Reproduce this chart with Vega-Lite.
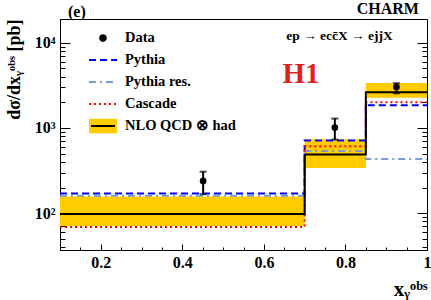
{
  "$schema": "https://vega.github.io/schema/vega-lite/v6.json",
  "width": 367,
  "height": 231,
  "autosize": {"type": "none"},
  "padding": {"left": 60, "top": 19, "right": 4, "bottom": 50},
  "background": "white",
  "config": {
    "view": {"stroke": "black", "strokeWidth": 1},
    "font": "Liberation Serif",
    "axis": {"grid": false, "domainColor": "black", "tickColor": "black", "tickWidth": 1, "labelColor": "black", "titleColor": "black"}
  },
  "datasets": {
    "band": [
      {"bin": 1, "x0": 0.1, "x1": 0.7, "lo": 71, "hi": 157},
      {"bin": 2, "x0": 0.7, "x1": 0.85, "lo": 340, "hi": 737},
      {"bin": 3, "x0": 0.85, "x1": 1.0, "lo": 2270, "hi": 3370}
    ],
    "models": [
      {"series": "Pythia", "bin": 1, "x0": 0.1, "x1": 0.7, "v": 170},
      {"series": "Pythia", "bin": 2, "x0": 0.7, "x1": 0.85, "v": 711},
      {"series": "Pythia", "bin": 3, "x0": 0.85, "x1": 1.0, "v": 1845},
      {"series": "Pythia res.", "bin": 1, "x0": 0.1, "x1": 0.7, "v": 160},
      {"series": "Pythia res.", "bin": 2, "x0": 0.7, "x1": 0.85, "v": 537},
      {"series": "Pythia res.", "bin": 3, "x0": 0.85, "x1": 1.0, "v": 433},
      {"series": "Cascade", "bin": 1, "x0": 0.1, "x1": 0.7, "v": 69},
      {"series": "Cascade", "bin": 2, "x0": 0.7, "x1": 0.85, "v": 610},
      {"series": "Cascade", "bin": 3, "x0": 0.85, "x1": 1.0, "v": 2000},
      {"series": "NLO QCD ⊗ had", "bin": 1, "x0": 0.1, "x1": 0.7, "v": 98},
      {"series": "NLO QCD ⊗ had", "bin": 2, "x0": 0.7, "x1": 0.85, "v": 488},
      {"series": "NLO QCD ⊗ had", "bin": 3, "x0": 0.85, "x1": 1.0, "v": 2621}
    ],
    "points": [
      {"series": "Data", "x": 0.451, "y": 239, "lo": 167, "hi": 307},
      {"series": "Data", "x": 0.774, "y": 1010, "lo": 731, "hi": 1290},
      {"series": "Data", "x": 0.925, "y": 3020, "lo": 2550, "hi": 3350}
    ]
  },
  "resolve": {"axis": {"x": "independent", "y": "independent"}},
  "layer": [
    {
      "data": {"name": "band"},
      "mark": {"type": "rect", "fill": "#ffcc00"},
      "encoding": {
        "x": {
          "field": "x0", "type": "quantitative",
          "scale": {"domain": [0.1, 1.0], "nice": false, "zero": false},
          "axis": {
            "orient": "bottom",
            "values": [0.2, 0.4, 0.6, 0.8, 1.0],
            "tickSize": -6,
            "labelExpr": "datum.value > 0.99 ? '1' : format(datum.value, '.1f')",
            "labelPadding": 10,
            "labelFont": "Liberation Serif", "labelFontSize": 16, "labelFontWeight": "bold",
            "labelOverlap": false, "labelFlush": false, "labelBound": false,
            "title": "xᵧᵒᵇˢ",
            "titleFont": "Liberation Serif", "titleFontSize": 21, "titleFontWeight": "bold",
            "titleX": 367, "titleY": 45, "titleAlign": "right", "titleBaseline": "alphabetic", "titleAnchor": "end"
          }
        },
        "x2": {"field": "x1"},
        "y": {
          "field": "lo", "type": "quantitative",
          "scale": {"type": "log", "domain": [37, 19000], "nice": false, "zero": false},
          "axis": {
            "orient": "left",
            "values": [100, 1000, 10000],
            "tickSize": -10,
            "labelExpr": "datum.value == 100 ? '10²' : datum.value == 1000 ? '10³' : '10⁴'",
            "labelPadding": 15,
            "labelFont": "Liberation Serif", "labelFontSize": 16, "labelFontWeight": "bold",
            "labelOverlap": false, "labelFlush": false, "labelBound": false,
            "title": "dσ/dxᵧᵒᵇˢ [pb]",
            "titleFont": "Liberation Serif", "titleFontSize": 18, "titleFontWeight": "bold",
            "titleX": -41, "titleY": 0, "titleAngle": -90, "titleAlign": "right", "titleBaseline": "alphabetic"
          }
        },
        "y2": {"field": "hi"}
      }
    },
    {
      "data": {"name": "models"},
      "transform": [
        {"filter": "datum.series !== 'NLO QCD ⊗ had'"},
        {"fold": ["x0", "x1"], "as": ["edge_key", "edge"]}
      ],
      "mark": {"type": "line", "strokeWidth": 2, "strokeCap": "butt"},
      "encoding": {
        "x": {
          "field": "edge", "type": "quantitative",
          "axis": {
            "orient": "bottom",
            "values": [0.15, 0.25, 0.3, 0.35, 0.45, 0.5, 0.55, 0.65, 0.7, 0.75, 0.85, 0.9, 0.95],
            "tickSize": -3, "labels": false, "domain": false, "title": null
          }
        },
        "y": {
          "field": "v", "type": "quantitative",
          "axis": {
            "orient": "right",
            "values": [100, 1000, 10000],
            "tickSize": -10, "labels": false, "title": null, "domain": false
          }
        },
        "order": [{"field": "edge", "type": "quantitative"}, {"field": "bin", "type": "quantitative"}],
        "color": {
          "field": "series", "type": "nominal",
          "scale": {"domain": ["Data", "Pythia", "Pythia res.", "Cascade", "NLO QCD ⊗ had"], "range": ["#000000", "#0000ff", "#7b9bd6", "#ff0000", "#ffcc00"]},
          "legend": {
            "title": null, "orient": "none", "legendX": 28, "legendY": 4,
            "labelFont": "Liberation Serif", "labelFontSize": 14.5, "labelFontWeight": "bold", "labelColor": "black",
            "symbolSize": 784, "symbolType": "stroke", "symbolStrokeWidth": 2, "labelOffset": 7, "rowPadding": -7, "padding": 0,
            "encode": {
              "symbols": {
                "update": {
                  "shape": [
                    {"test": "datum.value === 'Data'", "value": "M-0.2,0A0.2,0.2 0 1,0 0.2,0A0.2,0.2 0 1,0 -0.2,0Z"},
                    {"test": "datum.value === 'NLO QCD ⊗ had'", "value": "M-0.93,-0.45H0.93V0.45H-0.93Z"},
                    {"value": "stroke"}
                  ],
                  "fill": [
                    {"test": "datum.value === 'Data'", "value": "#000000"},
                    {"test": "datum.value === 'NLO QCD ⊗ had'", "value": {"gradient": "linear", "x1": 0, "y1": 0, "x2": 0, "y2": 1, "stops": [{"offset": 0, "color": "#ffcc00"}, {"offset": 0.42, "color": "#ffcc00"}, {"offset": 0.42, "color": "#000000"}, {"offset": 0.58, "color": "#000000"}, {"offset": 0.58, "color": "#ffcc00"}, {"offset": 1, "color": "#ffcc00"}]}},
                    {"value": "transparent"}
                  ],
                  "strokeDash": [
                    {"test": "datum.value === 'Pythia'", "value": [7, 4]},
                    {"test": "datum.value === 'Pythia res.'", "value": [7, 4, 2, 4]},
                    {"test": "datum.value === 'Cascade'", "value": [2, 3]},
                    {"value": [1, 0]}
                  ],
                  "opacity": {"value": 1}
                }
              }
            }
          }
        },
        "strokeDash": {
          "field": "series", "type": "nominal",
          "scale": {"domain": ["Pythia", "Pythia res.", "Cascade"], "range": [[7, 4], [7, 4, 2, 4], [2, 3]]},
          "legend": null
        }
      }
    },
    {
      "data": {"name": "models"},
      "transform": [
        {"filter": "datum.series === 'NLO QCD ⊗ had'"},
        {"fold": ["x0", "x1"], "as": ["edge_key", "edge"]}
      ],
      "mark": {"type": "line", "strokeWidth": 2, "strokeCap": "butt", "color": "#000000"},
      "encoding": {
        "x": {"field": "edge", "type": "quantitative", "axis": null},
        "y": {
          "field": "v", "type": "quantitative",
          "axis": {
            "orient": "left",
            "values": [40, 50, 60, 70, 80, 90, 200, 300, 400, 500, 600, 700, 800, 900, 2000, 3000, 4000, 5000, 6000, 7000, 8000, 9000],
            "tickSize": -5, "labels": false, "title": null, "domain": false
          }
        },
        "order": [{"field": "edge", "type": "quantitative"}, {"field": "bin", "type": "quantitative"}]
      }
    },
    {
      "data": {"name": "points"},
      "mark": {"type": "rule", "strokeWidth": 2, "color": "#000000"},
      "encoding": {
        "x": {"field": "x", "type": "quantitative", "axis": null},
        "y": {
          "field": "lo", "type": "quantitative",
          "axis": {
            "orient": "right",
            "values": [40, 50, 60, 70, 80, 90, 200, 300, 400, 500, 600, 700, 800, 900, 2000, 3000, 4000, 5000, 6000, 7000, 8000, 9000],
            "tickSize": -5, "labels": false, "title": null, "domain": false
          }
        },
        "y2": {"field": "hi"}
      }
    },
    {
      "data": {"name": "points"},
      "mark": {"type": "tick", "orient": "horizontal", "size": 7, "thickness": 2, "color": "#000000"},
      "encoding": {
        "x": {"field": "x", "type": "quantitative", "axis": null},
        "y": {"field": "hi", "type": "quantitative", "axis": null}
      }
    },
    {
      "data": {"name": "points"},
      "mark": {"type": "tick", "orient": "horizontal", "size": 7, "thickness": 2, "color": "#000000"},
      "encoding": {
        "x": {"field": "x", "type": "quantitative", "axis": null},
        "y": {"field": "lo", "type": "quantitative", "axis": null}
      }
    },
    {
      "data": {"name": "points"},
      "mark": {"type": "point", "shape": "circle", "filled": true, "size": 45, "opacity": 1, "color": "#000000"},
      "encoding": {
        "x": {"field": "x", "type": "quantitative", "axis": null},
        "y": {"field": "y", "type": "quantitative", "axis": null}
      }
    },
    {
      "data": {"values": [{}]},
      "mark": {"type": "text", "text": "(e)", "font": "Liberation Serif", "fontSize": 16, "fontWeight": "bold", "align": "left", "baseline": "alphabetic", "color": "#000000"},
      "encoding": {
        "x": {"datum": 0.1196, "type": "quantitative", "axis": null},
        "y": {"datum": 20030, "type": "quantitative", "axis": null}
      }
    },
    {
      "data": {"values": [{}]},
      "mark": {"type": "text", "text": "CHARM", "font": "Liberation Serif", "fontSize": 16, "fontWeight": "bold", "align": "right", "baseline": "alphabetic", "color": "#000000"},
      "encoding": {
        "x": {"datum": 0.9803, "type": "quantitative", "axis": null},
        "y": {"datum": 21700, "type": "quantitative", "axis": null}
      }
    },
    {
      "data": {"values": [{}]},
      "mark": {"type": "text", "text": "ep → ecc̄X → ejjX", "font": "Liberation Serif", "fontSize": 13.5, "fontWeight": "bold", "align": "center", "baseline": "middle", "color": "#000000"},
      "encoding": {
        "x": {"datum": 0.7854, "type": "quantitative", "axis": null},
        "y": {"datum": 11980, "type": "quantitative", "axis": null}
      }
    },
    {
      "data": {"values": [{}]},
      "mark": {"type": "text", "text": "H1", "font": "Liberation Serif", "fontSize": 29, "fontWeight": "bold", "align": "center", "baseline": "alphabetic", "color": "#e41e1e"},
      "encoding": {
        "x": {"datum": 0.691, "type": "quantitative", "axis": null},
        "y": {"datum": 3370, "type": "quantitative", "axis": null}
      }
    }
  ]
}
